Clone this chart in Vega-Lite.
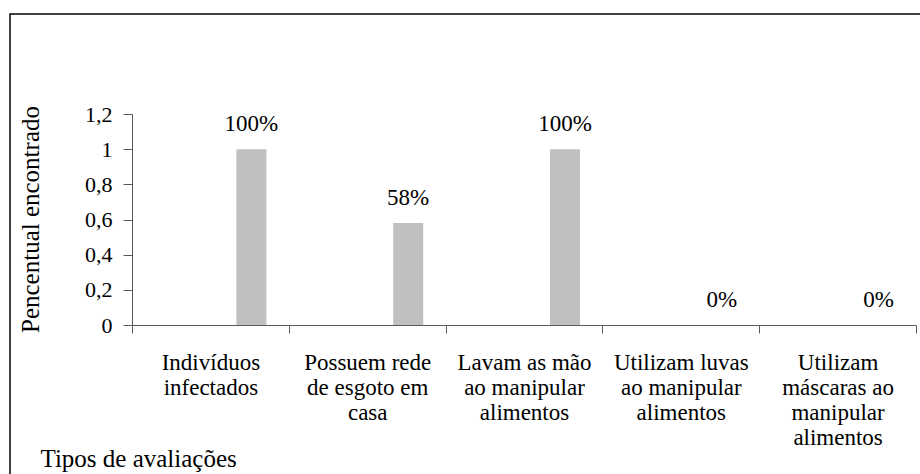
{
  "$schema": "https://vega.github.io/schema/vega-lite/v6.json",
  "autosize": {"type": "none"},
  "width": 920,
  "height": 470,
  "padding": {"left": 10, "top": 14, "right": 0, "bottom": 0},
  "background": "white",
  "config": {
    "view": {"stroke": "black", "strokeWidth": 1.5},
    "font": "Liberation Serif",
    "axis": {"domainColor": "#595959", "tickColor": "#595959", "grid": false, "labelColor": "black", "titleColor": "black", "labelFont": "Liberation Serif", "titleFont": "Liberation Serif", "titleFontWeight": "normal"}
  },
  "data": {
    "values": [
      {"categoria": "Indivíduos\ninfectados", "valor": 1},
      {"categoria": "Possuem rede\nde esgoto em\ncasa", "valor": 0.58},
      {"categoria": "Lavam as mão\nao manipular\nalimentos", "valor": 1},
      {"categoria": "Utilizam luvas\nao manipular\nalimentos", "valor": 0},
      {"categoria": "Utilizam\nmáscaras ao\nmanipular\nalimentos", "valor": 0}
    ]
  },
  "encoding": {
    "x": {
      "field": "categoria",
      "type": "nominal",
      "sort": null,
      "scale": {"range": [122, 906], "paddingInner": 0, "paddingOuter": 0},
      "axis": {
        "offset": -159,
        "tickBand": "extent",
        "tickSize": 8,
        "labelAngle": 0,
        "labelFontSize": 23,
        "labelLineHeight": 25,
        "labelPadding": 18,
        "labelBaseline": "top",
        "labelExpr": "split(datum.label, '\\n')",
        "title": "Tipos de avaliações",
        "titleFontSize": 25,
        "titleAnchor": "start",
        "titleAlign": "left",
        "titleBaseline": "alphabetic",
        "titleX": 30,
        "titleY": 141
      }
    },
    "y": {
      "field": "valor",
      "type": "quantitative",
      "scale": {"domain": [0, 1.2], "range": [311, 100], "nice": false},
      "axis": {
        "offset": -122,
        "values": [0, 0.2, 0.4, 0.6, 0.8, 1, 1.2],
        "format": "~g",
        "labelExpr": "replace(datum.label, '.', ',')",
        "tickSize": 9,
        "labelPadding": 11,
        "labelFontSize": 22,
        "title": "Pencentual encontrado",
        "titleFontSize": 25,
        "titleAngle": -90,
        "titleAlign": "center",
        "titleBaseline": "alphabetic",
        "titleX": -94,
        "titleY": 205
      }
    }
  },
  "layer": [
    {"mark": {"type": "bar", "color": "#C0C0C0", "width": 30, "xOffset": 41}},
    {
      "mark": {"type": "text", "xOffset": 41, "dy": -18, "baseline": "alphabetic", "fontSize": 23, "color": "black", "font": "Liberation Serif"},
      "encoding": {"text": {"field": "valor", "type": "quantitative", "format": ".0%"}}
    }
  ]
}
